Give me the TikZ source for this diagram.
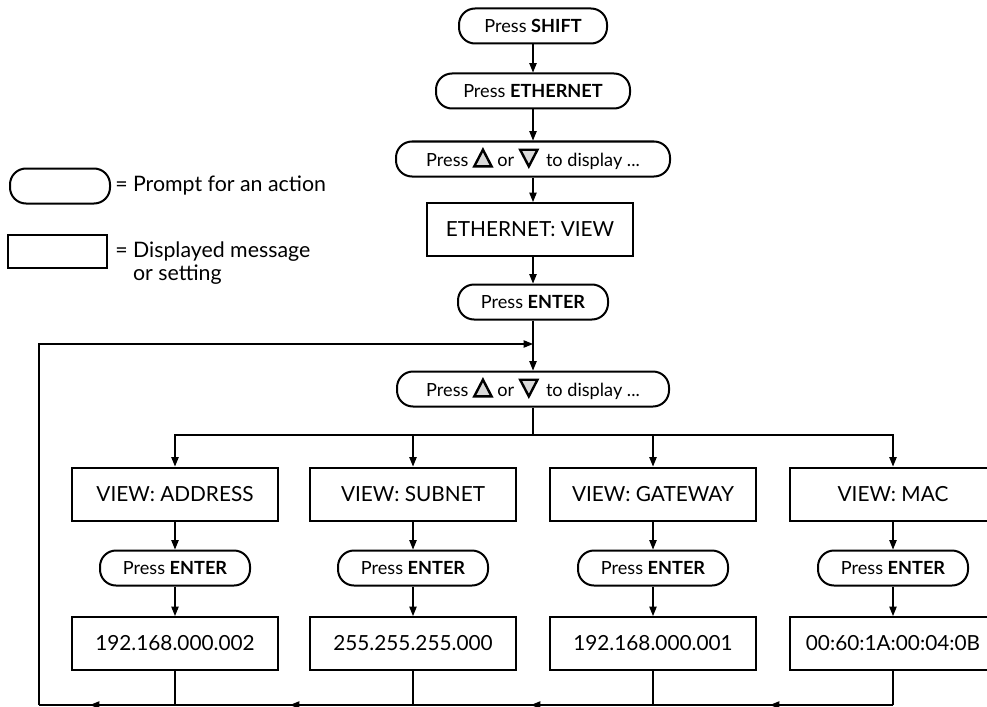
\documentclass[tikz,border=0pt]{standalone}
\usepackage{fontspec}
\setmainfont{Lato}
\usetikzlibrary{arrows.meta}
\definecolor{trifill}{HTML}{DADADA}
\newcommand\uptri{\tikz[baseline=0pt,sharp corners,x=1pt,y=1pt]\draw[line width=1.8pt,fill=trifill,line join=miter] (0,0) -- (13,0) -- (6.5,12.5) -- cycle;}
\newcommand\dntri{\tikz[baseline=0pt,sharp corners,x=1pt,y=1pt]\draw[line width=1.8pt,fill=trifill,line join=miter] (0,12.5) -- (13,12.5) -- (6.5,0) -- cycle;}
\begin{document}
\begin{tikzpicture}[x=0.75pt,y=-0.75pt,
  prompt/.style={draw, line width=1.5pt, rounded corners=12pt, minimum height={35*0.75pt}, inner sep=0pt, font=\fontsize{13.6}{16}\selectfont},
  disp/.style={draw, line width=1.5pt, minimum height={53*0.75pt}, minimum width={206*0.75pt}, inner sep=0pt, font=\fontsize{15.6}{18}\selectfont},
  conn/.style={line width=0.8pt},
  arr/.style={conn, -{Triangle[length=7pt,width=5.5pt]}},
  legtext/.style={anchor=west, inner sep=0pt, align=left, font=\fontsize{16}{17}\selectfont}]
\useasboundingbox (0,0) rectangle (987,706);
\clip (0,0) rectangle (987,706);
% legend
\node[prompt, minimum width={100*0.75pt}] (lp) at (60,186) {};
\node[legtext] (lpt) at (115,186) {= Prompt for an action};
\node[disp, minimum width={99*0.75pt}, minimum height={33*0.75pt}] (lr) at (57.5,251.5) {};
\node[legtext, anchor=base west] (lrt) at (115,280) {= Displayed message\\\phantom{= }or setting};
% top chain
\node[prompt, minimum width={148*0.75pt}] (shift) at (533,26) {Press \textbf{SHIFT}};
\node[prompt, minimum width={194*0.75pt}] (eth) at (533,91) {Press \textbf{ETHERNET}};
\node[prompt, minimum width={274*0.75pt}] (sel1) at (533,159) {Press \uptri{} or \dntri{}\hspace{2pt} to display ...};
\node[disp] (ethview) at (530,229.5) {ETHERNET: VIEW};
\node[prompt, minimum width={150*0.75pt}] (ent) at (533,302) {Press \textbf{ENTER}};
\coordinate (fb) at (533,344);
\node[prompt, minimum width={272*0.75pt}] (sel2) at (533,389) {Press \uptri{} or \dntri{}\hspace{2pt} to display ...};
\coordinate (dist) at (533,435);
\draw[arr] (shift) -- (eth);
\draw[arr] (eth) -- (sel1);
\draw[arr] (sel1) -- (sel1 |- ethview.north);
\draw[arr] (ethview.south -| ent) -- (ent);
\draw[arr] (ent) -- (sel2);
\draw[conn] (sel2) -- (dist);
% columns
\foreach \i/\x/\v/\w in {1/175/{VIEW: ADDRESS}/192.168.000.002,
                         2/413/{VIEW: SUBNET}/255.255.255.000,
                         3/653/{VIEW: GATEWAY}/192.168.000.001,
                         4/893/{VIEW: MAC}/00:60:1A:00:04:0B}{
  \node[disp] (view\i) at (\x,494) {\v};
  \node[prompt, minimum width={150*0.75pt}] (pe\i) at (\x,568) {Press \textbf{ENTER}};
  \node[disp] (val\i) at (\x,643.5) {\w};
  \coordinate (b\i) at (\x,705);
  \draw[arr] (dist) -| (view\i);
  \draw[arr] (view\i) -- (pe\i);
  \draw[arr] (pe\i) -- (val\i);
  \draw[conn] (val\i) -- (b\i);
}
% feedback loop
\coordinate (bl) at (39,705);
\coordinate (tl) at (39,344);
\coordinate (m1) at (90,705);
\coordinate (m2) at (290,705);
\coordinate (m3) at (531,705);
\coordinate (m4) at (770,705);
\draw[conn] (b4) -- (bl);
\draw[arr] (b1) -- (m1);
\draw[arr] (b2) -- (m2);
\draw[arr] (b3) -- (m3);
\draw[arr] (b4) -- (m4);
\draw[arr] (bl) -- (tl) -- (fb);
\end{tikzpicture}
\end{document}
